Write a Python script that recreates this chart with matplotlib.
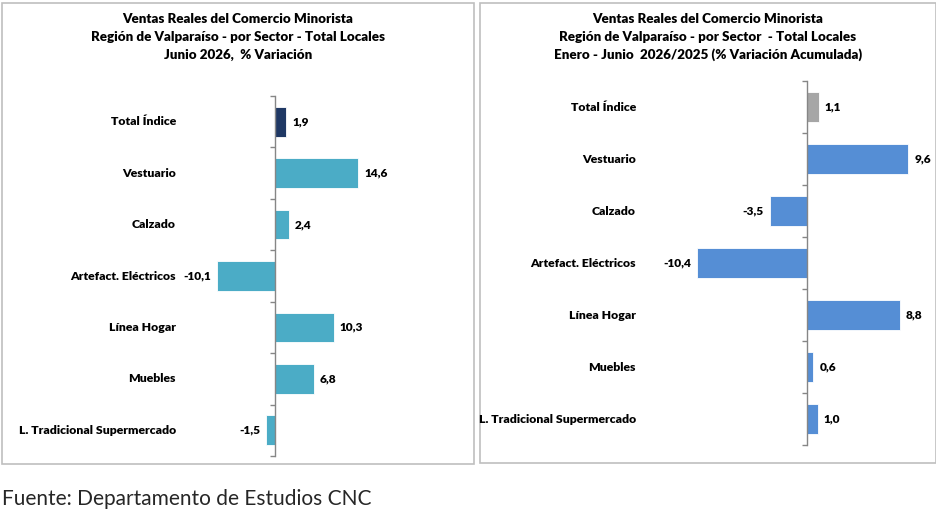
import matplotlib
matplotlib.use("Agg")
import matplotlib.pyplot as plt
from matplotlib.patches import Rectangle
from matplotlib.transforms import blended_transform_factory

categories = ["Total Índice", "Vestuario", "Calzado", "Artefact. Eléctricos",
              "Línea Hogar", "Muebles", "L. Tradicional Supermercado"]
junio_values = [1.9, 14.6, 2.4, -10.1, 10.3, 6.8, -1.5]
acum_values = [1.1, 9.6, -3.5, -10.4, 8.8, 0.6, 1.0]

title_left = ["Ventas Reales del Comercio Minorista",
              "Región de Valparaíso - por Sector - Total Locales",
              "Junio 2026,  % Variación"]
title_right = ["Ventas Reales del Comercio Minorista",
               "Región de Valparaíso - por Sector  - Total Locales",
               "Enero - Junio  2026/2025 (% Variación Acumulada)"]
source_text = "Fuente: Departamento de Estudios CNC"

FONT = "Lato"
WEIGHT = "heavy"
W, H = 937, 511
fig = plt.figure(figsize=(W / 100, H / 100), dpi=100)
fig.patch.set_facecolor("white")

def fx(px):
    return px / W

def fy(py):
    return 1 - py / H

# panel frames
for (x0, y0, x1, y1) in [(2, 3, 474, 464), (480, 3, 936, 463)]:
    fig.patches.append(Rectangle((fx(x0), fy(y1)), fx(x1 - x0), (y1 - y0) / H,
                                 transform=fig.transFigure, fill=False,
                                 edgecolor="#BFBFBF", linewidth=1.2))

def panel(values, colors, ax_px, xlim, label_x_px, titles, title_cx):
    x0, y0, x1, y1 = ax_px
    ax = fig.add_axes([fx(x0), fy(y1), fx(x1 - x0), (y1 - y0) / H])
    n = len(values)
    ypos = list(range(n))
    ax.barh(ypos, values, height=0.58, color=colors, edgecolor="white", linewidth=0.6, zorder=2)
    ax.set_xlim(*xlim)
    ax.set_ylim(n - 0.5, -0.5)
    for s in ["top", "right", "bottom"]:
        ax.spines[s].set_visible(False)
    ax.spines["left"].set_position(("data", 0))
    ax.spines["left"].set_color("#868686")
    ax.spines["left"].set_linewidth(1.0)
    ax.set_xticks([])
    ax.set_yticks([i - 0.5 for i in range(n + 1)])
    ax.set_yticklabels([])
    ax.tick_params(axis="y", direction="out", length=3.5, color="#868686", width=1.0)
    ax.patch.set_alpha(0)
    for i, v in enumerate(values):
        txt = f"{v:.1f}".replace(".", ",")
        if v >= 0:
            ax.annotate(txt, (v, i), xytext=(4.5, 0), textcoords="offset points",
                        ha="left", va="center", fontsize=8.6, fontweight=WEIGHT,
                        family=FONT, color="black")
        else:
            ax.annotate(txt, (v, i), xytext=(-4.5, 0), textcoords="offset points",
                        ha="right", va="center", fontsize=8.6, fontweight=WEIGHT,
                        family=FONT, color="black")
    tr = blended_transform_factory(fig.transFigure, ax.transData)
    for i, c in enumerate(categories):
        fig.text(fx(label_x_px), i, c, transform=tr, ha="right", va="center",
                 fontsize=8.8, fontweight=WEIGHT, family=FONT, color="black")
    for k, t in enumerate(titles):
        fig.text(fx(title_cx), fy(19 + 18 * k), t, ha="center", va="center",
                 fontsize=9.6, fontweight=WEIGHT, family=FONT, color="black")
    return ax

left_colors = ["#1F3864"] + ["#4BACC6"] * 6
right_colors = ["#A6A6A6"] + ["#558ED5"] * 6

# left: spine at px 275, 5.7 px/unit
lpx = 5.7
panel(junio_values, left_colors, (180, 96, 468, 456),
      ((180 - 275) / lpx, (468 - 275) / lpx), 176, title_left, 238)
# right: spine at px 807, 10.55 px/unit
rpx = 10.55
panel(acum_values, right_colors, (640, 81, 930, 445),
      ((640 - 807) / rpx, (930 - 807) / rpx), 636, title_right, 708)

fig.text(fx(2), fy(499), source_text, ha="left", va="center", fontsize=15,
         family=FONT, color="#262626")

fig.savefig("out.png", dpi=100)
